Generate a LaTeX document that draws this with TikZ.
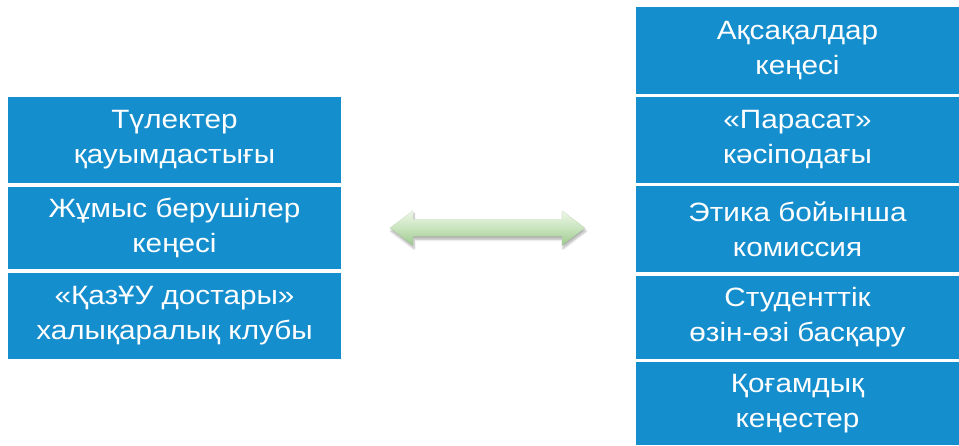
\documentclass[tikz,border=0pt]{standalone}
\usepackage{fontspec}
\setmainfont{Liberation Sans}[FakeStretch=1.12]
\usetikzlibrary{shadows.blur}
\definecolor{boxblue}{HTML}{158ECE}
\definecolor{arrowtop}{HTML}{EEF7E8}
\definecolor{arrowmid}{HTML}{C9E4BE}
\definecolor{arrowbot}{HTML}{9CC98C}
\begin{document}
\begin{tikzpicture}[x=1pt,y=1pt,
  box/.style={fill=boxblue, text=white, align=center,
    font=\fontsize{26.5}{35}\selectfont, inner sep=0pt},
  leftbox/.style={box, minimum width=333pt},
  rightbox/.style={box, minimum width=323pt},
  arrowshape/.style={top color=arrowtop, bottom color=arrowbot, middle color=arrowmid,
    draw=arrowbot!80!black, draw opacity=0.25, line width=0.4pt,
    blur shadow={shadow xshift=1pt, shadow yshift=-3pt, shadow blur steps=6, shadow opacity=30}}
]
\useasboundingbox (0,0) rectangle (959,445);
% left column
\node[leftbox, minimum height=86pt] (l1) at (174.5,305) {Түлектер\\қауымдастығы};
\node[leftbox, minimum height=82pt] (l2) at (174.5,217) {Жұмыс берушілер\\кеңесі};
\node[leftbox, minimum height=86pt] (l3) at (174.5,129) {«ҚазҰУ достары»\\халықаралық клубы};
% right column
\node[rightbox, minimum height=87pt] (r1) at (797.5,394.5) {Ақсақалдар\\кеңесі};
\node[rightbox, minimum height=86pt] (r2) at (797.5,305) {«Парасат»\\кәсіподағы};
\node[rightbox, minimum height=86pt] (r3) at (797.5,216) {Этика бойынша\\комиссия};
\node[rightbox, minimum height=83pt] (r4) at (797.5,127.5) {Студенттік\\өзін-өзі басқару};
\node[rightbox, minimum height=83pt] (r5) at (797.5,41.5) {Қоғамдық\\кеңестер};
% double arrow
\path[arrowshape] (390,217) -- (413,234.5) -- (413,225.5) -- (562,225.5) -- (562,234.5)
  -- (585,217) -- (562,199.5) -- (562,208.5) -- (413,208.5) -- (413,199.5) -- cycle;
\end{tikzpicture}
\end{document}
